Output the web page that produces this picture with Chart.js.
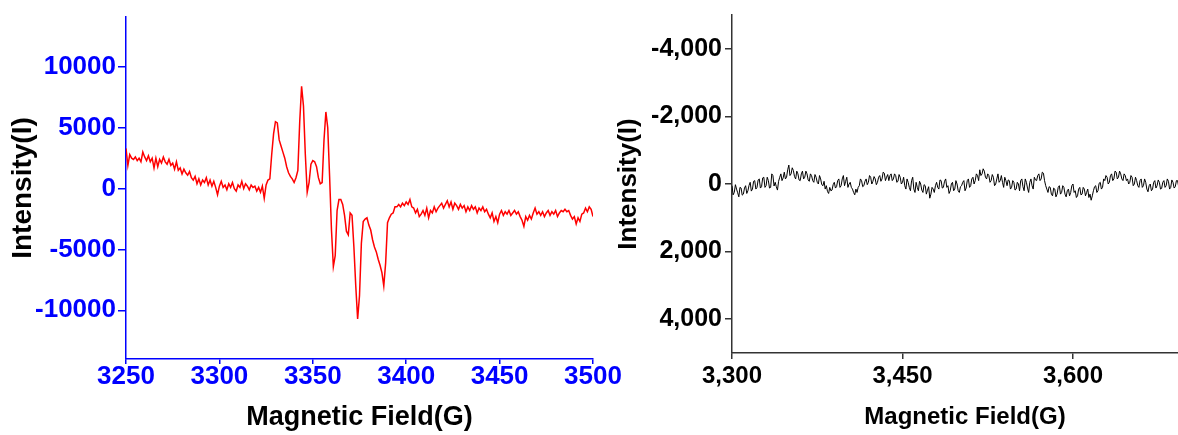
<!DOCTYPE html>
<html>
<head>
<meta charset="utf-8">
<script src="https://cdn.jsdelivr.net/npm/chart.js@4.4.1/dist/chart.umd.min.js"></script>
<style>
  html, body { margin: 0; padding: 0; background: #fff; overflow: hidden; }
  body { width: 1178px; height: 435px; position: relative; }
  #leftChart { position: absolute; left: 0; top: 0; }
  #rightChart { position: absolute; left: 600px; top: 0; }
</style>
</head>
<body>
<canvas id="leftChart" width="640" height="435"></canvas>
<canvas id="rightChart" width="598" height="435"></canvas>
<script>
// left spectrum, 3250..3500 G, 1 G per point
const leftStart = 3250;
const leftStep = 1;
const leftIntensity = [
    3300, 1900, 2800, 2500, 2400, 2600, 2300, 2500, 2200, 3000,
    2600, 2300, 2700, 2200, 2500, 1700, 2500, 1800, 2400, 2100,
    2600, 2200, 2000, 2400, 1900, 2100, 1600, 2200, 1500, 1700,
    1200, 1600, 1300, 1100, 1400, 900, 700, 1000, 400, 800,
    300, 700, 500, 900, 300, 700, 200, 600, 100, -500,
    200, 600, 100, 300, -100, 400, 100, 500, 0, -200,
    300, 100, 600, 0, 400, 200, -100, 300, 100, 200,
    -200, 100, -300, 200, -800, 300, 700, 800, 2800, 4500,
    5500, 5400, 4000, 3500, 3000, 2500, 1800, 1300, 1000, 800,
    500, 900, 1500, 5500, 8400, 6800, 2800, -300, 500, 2000,
    2300, 2200, 1800, 900, 400, 500, 4000, 6300, 5000, 1000,
    -3400, -6400, -5500, -1800, -900, -900, -1300, -2200, -3500, -3800,
    -2000, -2200, -4800, -8000, -10700, -8800, -4500, -2700, -2500, -2400,
    -3000, -3400, -4200, -4800, -5200, -5800, -6300, -6900, -8000, -6100,
    -2800, -2400, -2100, -2000, -1500, -1500, -1300, -1500, -1200, -1400,
    -1100, -1300, -900, -1500, -1600, -2000, -1700, -2300, -2100, -1800,
    -2200, -1600, -2400, -1800, -2000, -1500, -1900, -1600, -1400, -1200,
    -1600, -1300, -1000, -1500, -1100, -1700, -1200, -1400, -1700, -1300,
    -1600, -1400, -1900, -1500, -1800, -1400, -1700, -1500, -2000, -1600,
    -1800, -1500, -1900, -1700, -2100, -2400, -2000, -2700, -2300, -2800,
    -2100, -1800, -2200, -1900, -2100, -1800, -2200, -2000, -1800, -2100,
    -1900, -2300, -2600, -3100, -2300, -2600, -2200, -2500, -2000, -1600,
    -2100, -1900, -2200, -1900, -2300, -2000, -1800, -2200, -1900, -2100,
    -1800, -2300, -2000, -1800, -1900, -1700, -1900, -1800, -2200, -2500,
    -2300, -2900, -2400, -2700, -2100, -2000, -1600, -1900, -1500, -1700,
    -2300
];
const leftXTicks = [3250, 3300, 3350, 3400, 3450, 3500];
const leftXTickLabels = ["3250", "3300", "3350", "3400", "3450", "3500"];
const leftYTicks = [-10000, -5000, 0, 5000, 10000];
const leftYTickLabels = ["-10000", "-5000", "0", "5000", "10000"];

// right spectrum, 3300..3700 G, 1 G per point
const rightStart = 3300;
const rightStep = 1;
const rightIntensity = [
    50, 320, 250, 20, 150, 260, 380, 100, 120, 330,
    300, 120, 50, 280, 200, 40, -50, 210, 150, -80,
    -100, 150, 100, -120, -150, 120, 80, -180, -200, 100,
    50, -200, -100, 120, 100, -300, -250, 60, -50, 80,
    180, -80, -200, -300, -100, -180, -350, -150, -200, -420,
    -560, -250, -300, -480, -400, -220, -150, -380, -300, -120,
    -100, -300, -380, -150, -200, -380, -300, -120, -80, -300,
    -250, -100, -50, -280, -200, -50, 0, -250, -150, 20,
    50, -80, 150, 50, 220, 280, 100, 200, 180, 20,
    -50, 120, 80, -100, -150, 100, 50, -150, -250, 50,
    -80, -200, 100, 0, -50, 100, 150, 250, 320, 150,
    250, 100, 50, -150, -100, 80, 50, -80, -150, 20,
    -50, -250, -200, 0, -80, -220, -150, 20, -50, -200,
    -250, -80, -150, -350, -320, -100, -200, -280, -100, -250,
    -300, -100, -150, -300, -250, -50, -80, -280, -200, 0,
    -50, -200, 50, 150, -150, -50, 100, 200, -100, -200,
    150, 250, -50, 100, 200, -80, 0, 180, 250, 20,
    50, 300, 180, 80, 420, 300, 100, 150, 250, 50,
    -50, 100, 150, -120, -100, 120, 100, -80, -150, 100,
    50, 280, 200, 0, -50, 200, 150, -100, 0, 200,
    250, 80, 50, -50, -100, 200, 120, -100, -150, 100,
    50, -150, -200, 0, -100, -300, -250, -100, -420, -250,
    -300, -450, -380, -200, -150, -300, -250, -50, -100, -280,
    -200, 50, 0, -150, -300, -50, -100, -250, -50, 100,
    -200, -100, 50, -120, -100, 150, 100, -100, -50, 180,
    150, -50, 0, 200, -100, -150, 80, 200, -150, -50,
    120, 250, -50, -150, 50, 150, -200, -120, -100, -250,
    -300, -100, -150, -350, -320, -100, 50, 150, 250, 80,
    100, 300, 350, 120, 150, 380, 300, 100, 50, 300,
    250, 50, 100, 300, 380, 200, 150, 350, 250, 50,
    0, 250, 200, 400, 350, 150, 100, 320, 300, 100,
    150, 350, 250, 150, 400, 300, 480, 350, 200, 80,
    50, 250, 200, -20, -50, 150, 100, -150, -100, -250,
    -200, 0, -50, -250, -300, -100, -150, -380, -350, -150,
    -200, -380, -300, -150, -100, -300, -250, -100, -150, 0,
    -50, -250, -200, 50, 0, -200, -100, 50, 100, -100,
    -150, 100, 50, -150, -50, 150, 230, 50, 0, 200,
    150, -50, -100, 120, 50, -120, -50, 150, 130, -50,
    -100, 100, 50, -150, -80, 150, 100, -120, -50, 120,
    80, -100, -100, 80, 120, -80, -50, 100, 60, -50,
    -80
];
const rightXTicks = [3300, 3450, 3600];
const rightXTickLabels = ["3,300", "3,450", "3,600"];
const rightYTicks = [-4000, -2000, 0, 2000, 4000];
const rightYTickLabels = ["-4,000", "-2,000", "0", "2,000", "4,000"];

Chart.defaults.font.family = '"Liberation Sans", Arial, sans-serif';
Chart.defaults.font.weight = "bold";

function toPoints(start, step, values) {
    return values.map((v, i) => ({ x: start + i * step, y: v }));
}

function pickLabel(values, labels) {
    return (value) => {
        const i = values.indexOf(value);
        return i >= 0 ? labels[i] : "";
    };
}

// Left chart
const leftChart = new Chart(document.getElementById("leftChart"), {
    type: "line",
    data: {
        datasets: [{
            data: toPoints(leftStart, leftStep, leftIntensity),
            borderColor: "#ff0000",
            borderWidth: 1.5,
            pointRadius: 0,
            tension: 0,
        }],
    },
    options: {
        responsive: false,
        animation: false,
        devicePixelRatio: 1,
        layout: { padding: { top: 17, right: 47, left: 0, bottom: 0 } },
        plugins: { legend: { display: false }, tooltip: { enabled: false } },
        scales: {
            x: {
                type: "linear",
                min: 3250,
                max: 3500,
                afterBuildTicks: (scale) => { scale.ticks = leftXTicks.map((v) => ({ value: v })); },
                afterFit: (scale) => { scale.height = 76; scale.paddingLeft = 0; scale.paddingRight = 0; },
                grid: { drawOnChartArea: false, tickLength: 5, color: "#0000ff", lineWidth: 1.5 },
                border: { display: true, color: "#0000ff", width: 1.5 },
                ticks: {
                    color: "#0000ff",
                    font: { size: 26, weight: "bold", lineHeight: 1 },
                    padding: 0,
                    maxRotation: 0,
                    autoSkip: false,
                    callback: pickLabel(leftXTicks, leftXTickLabels),
                },
                title: {
                    display: true,
                    text: "Magnetic Field(G)",
                    color: "#000",
                    font: { size: 27, weight: "bold" },
                    padding: { top: 0, bottom: 1 },
                },
            },
            y: {
                min: -14000,
                max: 14100,
                afterBuildTicks: (scale) => { scale.ticks = leftYTicks.map((v) => ({ value: v })); },
                afterFit: (scale) => { scale.width = 126; scale.paddingTop = 0; scale.paddingBottom = 0; },
                grid: { drawOnChartArea: false, tickLength: 8, color: "#0000ff", lineWidth: 1.5 },
                border: { display: true, color: "#0000ff", width: 1.5 },
                ticks: {
                    color: "#0000ff",
                    font: { size: 26, weight: "bold" },
                    padding: 2,
                    autoSkip: false,
                    callback: pickLabel(leftYTicks, leftYTickLabels),
                },
                title: {
                    display: true,
                    text: "Intensity(I)",
                    color: "#000",
                    font: { size: 28, weight: "bold" },
                    padding: { top: 6, bottom: 0 },
                },
            },
        },
    },
});

// Right chart
const rightChart = new Chart(document.getElementById("rightChart"), {
    type: "line",
    data: {
        datasets: [{
            data: toPoints(rightStart, rightStep, rightIntensity),
            borderColor: "#000000",
            borderWidth: 1,
            pointRadius: 0,
            tension: 0,
        }],
    },
    options: {
        responsive: false,
        animation: false,
        devicePixelRatio: 1,
        layout: { padding: { top: 15, right: 0, left: 0, bottom: 0 } },
        plugins: { legend: { display: false }, tooltip: { enabled: false } },
        scales: {
            x: {
                type: "linear",
                min: 3300,
                max: 3710,
                afterBuildTicks: (scale) => { scale.ticks = rightXTicks.map((v) => ({ value: v })); },
                afterFit: (scale) => { scale.height = 82; scale.paddingLeft = 0; scale.paddingRight = 0; },
                grid: { drawOnChartArea: false, tickLength: 6, color: "#333", lineWidth: 1.5 },
                border: { display: true, color: "#333", width: 1.5 },
                ticks: {
                    color: "#000",
                    font: { size: 24, weight: "bold" },
                    padding: 3,
                    maxRotation: 0,
                    autoSkip: false,
                    callback: pickLabel(rightXTicks, rightXTickLabels),
                },
                title: {
                    display: true,
                    text: "Magnetic Field(G)",
                    color: "#000",
                    font: { size: 24, weight: "bold" },
                    padding: { top: 0, bottom: 3 },
                },
            },
            y: {
                min: -5000,
                max: 5000,
                reverse: true,
                afterBuildTicks: (scale) => { scale.ticks = rightYTicks.map((v) => ({ value: v })); },
                afterFit: (scale) => { scale.width = 132; scale.paddingTop = 0; scale.paddingBottom = 0; },
                grid: { drawOnChartArea: false, tickLength: 7, color: "#333", lineWidth: 1.5 },
                border: { display: true, color: "#333", width: 1.5 },
                ticks: {
                    color: "#000",
                    font: { size: 25, weight: "bold" },
                    padding: 3,
                    autoSkip: false,
                    callback: pickLabel(rightYTicks, rightYTickLabels),
                },
                title: {
                    display: true,
                    text: "Intensity(I)",
                    color: "#000",
                    font: { size: 26, weight: "bold" },
                    padding: { top: 13, bottom: 0 },
                },
            },
        },
    },
});
</script>
</body>
</html>
